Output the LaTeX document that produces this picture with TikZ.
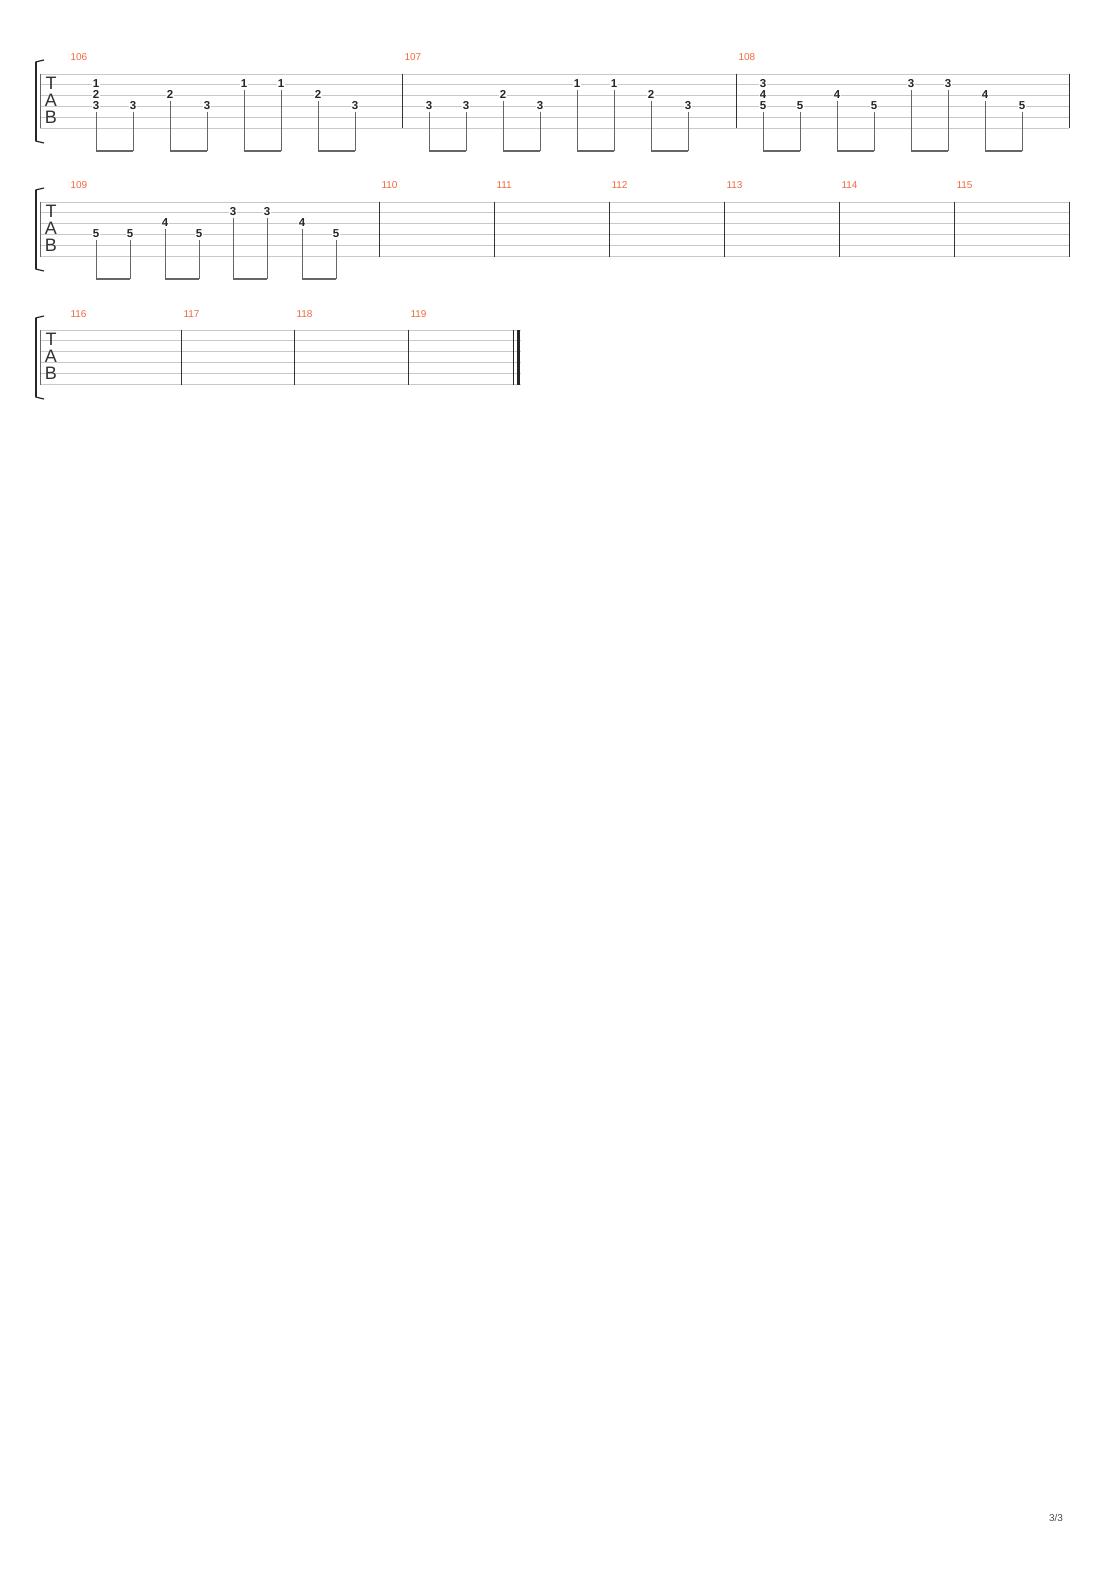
\documentclass[tikz,border=0pt]{standalone}
\usepackage{fontspec}
\setmainfont{Liberation Sans}
\begin{document}
\begin{tikzpicture}[x=1pt,y=-1pt,
  fret/.style={font=\fontsize{11.5}{11.5}\bfseries\selectfont, text=black!85, fill=white, inner sep=0.6pt},
  mnum/.style={font=\fontsize{10}{10}\selectfont, text={rgb,255:red,240;green,106;blue,63}, anchor=base west},
  staffline/.style={draw={rgb,255:red,200;green,200;blue,200}, line width=0.9pt},
  bar/.style={draw=black!80, line width=0.8pt},
  stem/.style={draw=black!60, line width=0.7pt},
  beam/.style={draw=black!60, line width=2.6pt},
  tabl/.style={font=\fontsize{18}{18}\selectfont, text=black!80, inner sep=0pt}]
\useasboundingbox[fill=white] (0,0) rectangle (1110,1570);
\newcommand{\sys}[2]{%
  \foreach \i in {0,...,5} \draw[staffline] (40,#1+\i*10.9) -- (#2,#1+\i*10.9);
  \draw[line width=0.6pt, black!60] (40,#1) -- (40,#1+54.5);
  \draw[line width=2.2pt, black!85] (36,#1-12) -- (36,#1+67);
  \draw[line width=1.2pt, black!85] (35.5,#1-12) -- (44,#1-14);
  \draw[line width=1.2pt, black!85] (35.5,#1+67) -- (44,#1+69);
  \node[tabl] (T#1) at (51,#1+9) {T};
  \node[tabl] (A#1) at (51,#1+26) {A};
  \node[tabl] (B#1) at (51,#1+43) {B};
}
\newcommand{\fr}[4]{\node[fret] at (#2,#1+#3*10.9-12.4) {#4};}
\newcommand{\stm}[3]{\draw[stem] (#2,#1+#3*10.9-6) -- (#2,#1+77);}
\newcommand{\bm}[3]{\draw[beam] (#2-0.4,#1+77) -- (#3+0.4,#1+77);}
% ---------- system 1 ----------
\sys{74}{1069}
\foreach \x in {402,736,1069} \draw[bar] (\x,74) -- (\x,128.5);
\node[mnum] (m106) at (67,61) {106};
\node[mnum] (m107) at (401,61) {107};
\node[mnum] (m108) at (735,61) {108};
\fr{74}{96}{2}{1}\fr{74}{96}{3}{2}\fr{74}{96}{4}{3}\stm{74}{96}{4}
\foreach \x/\s/\f in {133/4/3,170/3/2,207/4/3,244/2/1,281/2/1,318/3/2,355/4/3,
  429/4/3,466/4/3,503/3/2,540/4/3,577/2/1,614/2/1,651/3/2,688/4/3,
  800/4/5,837/3/4,874/4/5,911/2/3,948/2/3,985/3/4,1022/4/5}
  {\fr{74}{\x}{\s}{\f}\stm{74}{\x}{\s}}
\fr{74}{763}{2}{3}\fr{74}{763}{3}{4}\fr{74}{763}{4}{5}\stm{74}{763}{4}
\foreach \a/\b in {96/133,170/207,244/281,318/355,429/466,503/540,577/614,651/688,763/800,837/874,911/948,985/1022}
  \bm{74}{\a}{\b};
% ---------- system 2 ----------
\sys{202}{1069}
\foreach \x in {379,494,609,724,839,954,1069} \draw[bar] (\x,202) -- (\x,256.5);
\node[mnum] (m109) at (67,189) {109};
\foreach \x/\n in {379/110,494/111,609/112,724/113,839/114,954/115}
  \node[mnum] (m\n) at (\x-1,189) {\n};
\foreach \x/\s/\f in {96/4/5,130/4/5,165/3/4,199/4/5,233/2/3,267/2/3,302/3/4,336/4/5}
  {\fr{202}{\x}{\s}{\f}\stm{202}{\x}{\s}}
\foreach \a/\b in {96/130,165/199,233/267,302/336} \bm{202}{\a}{\b};
% ---------- system 3 ----------
\sys{330}{521}
\foreach \x in {181,294,408} \draw[bar] (\x,330) -- (\x,384.5);
\draw[line width=0.9pt, black!85] (513.5,330) -- (513.5,384.5);
\draw[line width=3.5pt, black!85] (518.5,330) -- (518.5,384.5);
\node[mnum] (m116) at (67,317) {116};
\foreach \x/\n in {181/117,294/118,408/119}
  \node[mnum] (m\n) at (\x-1,317) {\n};
\node[font=\fontsize{10}{10}\selectfont, text=black!70] (pg) at (1056,1518) {3/3};
\end{tikzpicture}
\end{document}
